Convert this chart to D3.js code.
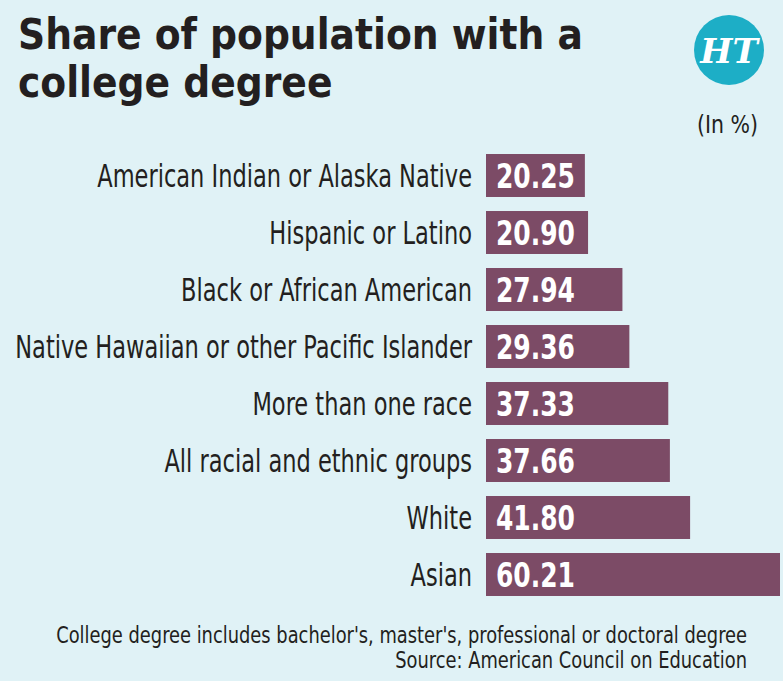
<!DOCTYPE html>
<html>
<head>
<meta charset="utf-8">
<script src="https://cdn.jsdelivr.net/npm/d3@7"></script>
<style>
  body { margin: 0; background: #e0f2f6; }
  svg { display: block; }
</style>
</head>
<body>
<div id="viz"></div>
<script>
const width = 783;
const height = 681;
const condensed = "'Liberation Sans Narrow', 'DejaVu Sans Condensed', 'Roboto', sans-serif";

// data
const categories = [
  'American Indian or Alaska Native',
  'Hispanic or Latino',
  'Black or African American',
  'Native Hawaiian or other Pacific Islander',
  'More than one race',
  'All racial and ethnic groups',
  'White',
  'Asian'
];
const values = [20.25, 20.90, 27.94, 29.36, 37.33, 37.66, 41.80, 60.21];
const titleLines = ['Share of population with a', 'college degree'];
const unitLabel = '(In %)';
const footnotes = [
  "College degree includes bachelor's, master's, professional or doctoral degree",
  'Source: American Council on Education'
];

const barColor = '#7c4b66';
const textColor = '#231f20';

const svg = d3.select('#viz')
  .append('svg')
    .attr('width', width)
    .attr('height', height);

svg.append('rect')
  .attr('width', width)
  .attr('height', height)
  .attr('fill', '#e0f2f6');

// the original uses a condensed face: squeeze texts horizontally so that
// one reference string of the group gets its measured width
const squeeze = (sel, refIndex, target) => {
  const w = sel.filter((d, i) => i === refIndex).node().getComputedTextLength();
  const sx = target / w;
  sel.attr('transform', function() {
    const t = d3.select(this);
    return `translate(${t.attr('data-x')},${t.attr('data-y')}) scale(${sx},1)`;
  });
};

// title
const title = svg.append('g')
  .selectAll('text')
  .data(titleLines)
  .join('text')
    .attr('data-x', 18)
    .attr('data-y', (d, i) => 49 + i * 48)
    .attr('font-family', condensed)
    .attr('font-weight', 'bold')
    .attr('font-size', 43)
    .attr('fill', textColor)
    .text(d => d);
squeeze(title, 0, 565);

// HT logo
const logo = svg.append('g').attr('transform', 'translate(729, 50)');
logo.append('circle')
  .attr('r', 35)
  .attr('fill', '#1daec6');
logo.append('text')
  .attr('text-anchor', 'middle')
  .attr('y', 13)
  .attr('font-family', "'DejaVu Serif', serif")
  .attr('font-weight', 'bold')
  .attr('font-style', 'italic')
  .attr('font-size', 34)
  .attr('fill', '#ffffff')
  .text('HT');

const unit = svg.append('text')
  .attr('data-x', 758)
  .attr('data-y', 133)
  .attr('text-anchor', 'end')
  .attr('font-family', condensed)
  .attr('font-size', 25)
  .attr('fill', textColor)
  .text(unitLabel);
squeeze(unit, 0, 61);

// scales
const xScale = d3.scaleLinear()
  .domain([0, d3.max(values)])
  .range([486, 780]);

const yScale = d3.scaleBand()
  .domain(categories)
  .range([147, 603])
  .paddingInner(0.246)
  .paddingOuter(0.123);

const rows = categories.map((c, i) => ({category: c, value: values[i]}));

// bars
svg.append('g')
  .selectAll('rect')
  .data(rows)
  .join('rect')
    .attr('x', xScale(0))
    .attr('y', d => yScale(d.category))
    .attr('width', d => xScale(d.value) - xScale(0))
    .attr('height', yScale.bandwidth())
    .attr('fill', barColor);

// category labels
const labels = svg.append('g')
  .selectAll('text')
  .data(rows)
  .join('text')
    .attr('data-x', 472)
    .attr('data-y', d => yScale(d.category) + yScale.bandwidth() / 2 + 11)
    .attr('text-anchor', 'end')
    .attr('font-family', condensed)
    .attr('font-size', 31.5)
    .attr('fill', textColor)
    .text(d => d.category);
squeeze(labels, 3, 457);

// value labels
const valueLabels = svg.append('g')
  .selectAll('text')
  .data(rows)
  .join('text')
    .attr('data-x', xScale(0) + 10)
    .attr('data-y', d => yScale(d.category) + yScale.bandwidth() / 2 + 12.5)
    .attr('font-family', condensed)
    .attr('font-weight', 'bold')
    .attr('font-size', 34)
    .attr('fill', '#ffffff')
    .text(d => d3.format('.2f')(d.value));
squeeze(valueLabels, 7, 79);

// footnotes
const notes = svg.append('g')
  .selectAll('text')
  .data(footnotes)
  .join('text')
    .attr('data-x', 747)
    .attr('data-y', (d, i) => 643 + i * 25)
    .attr('text-anchor', 'end')
    .attr('font-family', condensed)
    .attr('font-size', 23)
    .attr('fill', textColor)
    .text(d => d);
squeeze(notes, 1, 352);
</script>
</body>
</html>
